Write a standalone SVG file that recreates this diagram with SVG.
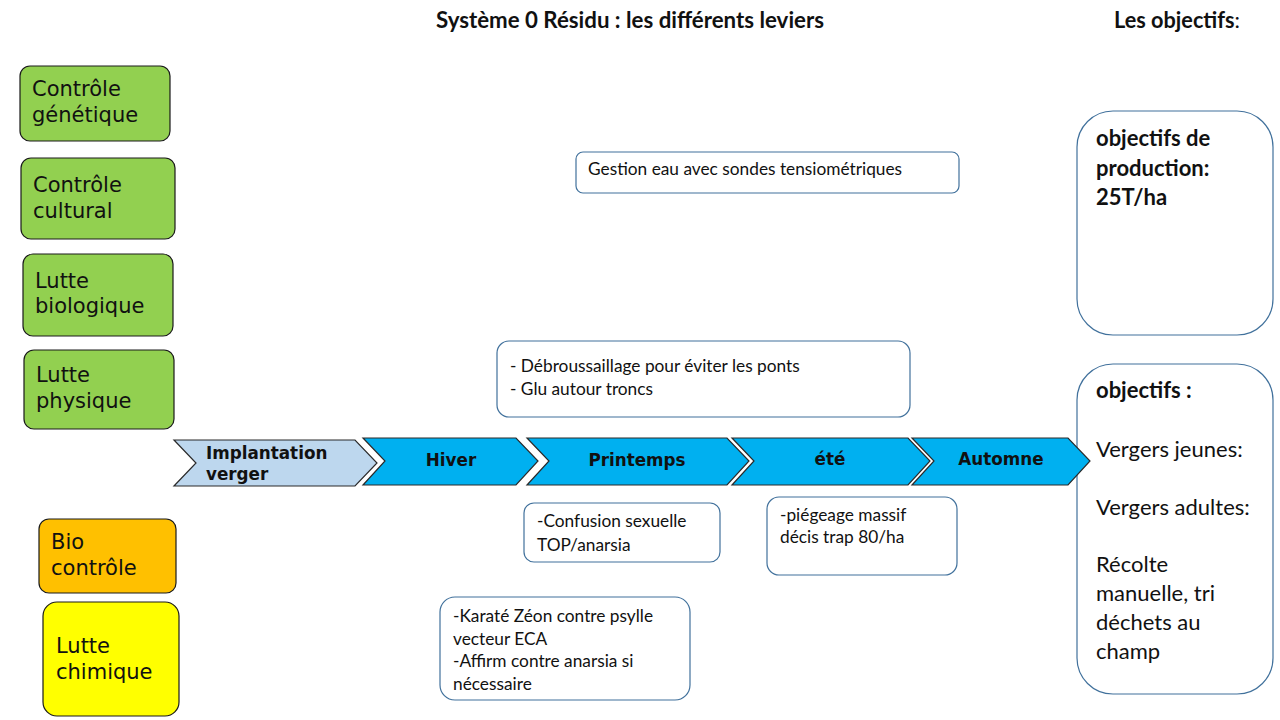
<svg xmlns="http://www.w3.org/2000/svg" width="1280" height="720" viewBox="0 0 1280 720">
<style>
.lev{stroke:#1a1a1a;stroke-width:1.2}
.green{fill:#92d050}
.lt{font-family:"DejaVu Sans",sans-serif;font-size:21px;fill:#111}
.chev{stroke:#2a2a2a;stroke-width:1.2}
.ct{font-family:"DejaVu Sans",sans-serif;font-size:16.8px;font-weight:bold;fill:#111}
.box{fill:#fff;stroke:#41719c;stroke-width:1.2}
.bt{font-family:Lato,"Liberation Sans",sans-serif;font-size:17.3px;fill:#111}
.ot{font-family:Lato,"Liberation Sans",sans-serif;font-size:22px;fill:#111}
.b{font-weight:bold}
.title{font-family:Lato,"Liberation Sans",sans-serif;font-size:22px;font-weight:bold;fill:#111}
</style>
<rect width="1280" height="720" fill="#fff"/>
<g id="titles">
<text class="title" x="436" y="28" textLength="388" lengthAdjust="spacingAndGlyphs">Système 0 Résidu : les différents leviers</text>
<text class="title" x="1114" y="28" textLength="126" lengthAdjust="spacingAndGlyphs">Les objectifs<tspan font-weight="normal">:</tspan></text>
</g>
<g id="controle-genetique"><rect class="lev green" x="20" y="66" width="150" height="75" rx="10"/><text class="lt" x="32" y="96">Contrôle</text><text class="lt" x="32" y="122">génétique</text></g>
<g id="controle-cultural"><rect class="lev green" x="21" y="158" width="154" height="81" rx="10"/><text class="lt" x="33" y="192">Contrôle</text><text class="lt" x="33" y="218">cultural</text></g>
<g id="lutte-biologique"><rect class="lev green" x="23" y="254" width="150" height="82" rx="10"/><text class="lt" x="35" y="288">Lutte</text><text class="lt" x="35" y="313">biologique</text></g>
<g id="lutte-physique"><rect class="lev green" x="24" y="350" width="150" height="79" rx="10"/><text class="lt" x="36" y="382">Lutte</text><text class="lt" x="36" y="408">physique</text></g>
<g id="bio-controle"><rect class="lev" fill="#ffc000" x="39" y="519" width="137" height="74" rx="10"/><text class="lt" x="51" y="549">Bio</text><text class="lt" x="51" y="575">contrôle</text></g>
<g id="lutte-chimique"><rect class="lev" fill="#ffff00" x="43" y="602" width="136" height="114" rx="14"/><text class="lt" x="56" y="653">Lutte</text><text class="lt" x="56" y="679">chimique</text></g>

<g id="objectifs-production"><rect class="box" x="1077" y="111" width="196" height="224" rx="36"/>
<text class="ot b" x="1096" y="146">objectifs de</text><text class="ot b" x="1096" y="176">production:</text><text class="ot b" x="1096" y="205">25T/ha</text></g>
<g id="objectifs"><rect class="box" x="1077" y="364" width="196" height="330" rx="36"/>
<text class="ot b" x="1096" y="398">objectifs :</text>
<text class="ot" x="1096" y="457">Vergers jeunes:</text>
<text class="ot" x="1096" y="515">Vergers adultes:</text>
<text class="ot" x="1096" y="572">Récolte</text>
<text class="ot" x="1096" y="601">manuelle, tri</text>
<text class="ot" x="1096" y="630">déchets au</text>
<text class="ot" x="1096" y="659">champ</text></g>

<g id="implantation"><polygon class="chev" fill="#bdd7ee" points="174,440 355,440 377,463 355,486 174,486 196,463"/><text class="ct" x="206" y="459">Implantation</text><text class="ct" x="206" y="480">verger</text></g>
<g id="hiver"><polygon class="chev" fill="#00b0f0" points="363,438 516,438 538,461 516,485 363,485 385,461"/><text class="ct" x="451" y="466" text-anchor="middle">Hiver</text></g>
<g id="printemps"><polygon class="chev" fill="#00b0f0" points="527,438 727,438 749,461 727,485 527,485 549,461"/><text class="ct" x="637" y="466" text-anchor="middle">Printemps</text></g>
<g id="ete"><polygon class="chev" fill="#00b0f0" points="732,438 908,438 930,461 908,485 732,485 754,461"/><text class="ct" x="830" y="465" text-anchor="middle">été</text></g>
<g id="automne"><polygon class="chev" fill="#00b0f0" points="912,438 1068,438 1090,461 1068,485 912,485 934,461"/><text class="ct" x="1001" y="465" text-anchor="middle">Automne</text></g>

<g id="gestion-eau"><rect class="box" x="576" y="152" width="383" height="41" rx="7"/><text class="bt" x="588" y="175">Gestion eau avec sondes tensiométriques</text></g>
<g id="debroussaillage"><rect class="box" x="497" y="341" width="413" height="76" rx="12"/><text class="bt" x="510" y="372">- Débroussaillage pour éviter les ponts</text><text class="bt" x="510" y="395">- Glu autour troncs</text></g>
<g id="confusion"><rect class="box" x="524" y="503" width="196" height="59" rx="10"/><text class="bt" x="537" y="527">-Confusion sexuelle</text><text class="bt" x="537" y="551">TOP/anarsia</text></g>
<g id="piegeage"><rect class="box" x="767" y="497" width="190" height="78" rx="12"/><text class="bt" x="780" y="521">-piégeage massif</text><text class="bt" x="780" y="543">décis trap 80/ha</text></g>
<g id="karate"><rect class="box" x="440" y="597" width="250" height="103" rx="15"/><text class="bt" x="453" y="622">-Karaté Zéon contre psylle</text><text class="bt" x="453" y="645">vecteur ECA</text><text class="bt" x="453" y="667">-Affirm contre anarsia si</text><text class="bt" x="453" y="690">nécessaire</text></g>
<g id="connectors"></g>
</svg>
